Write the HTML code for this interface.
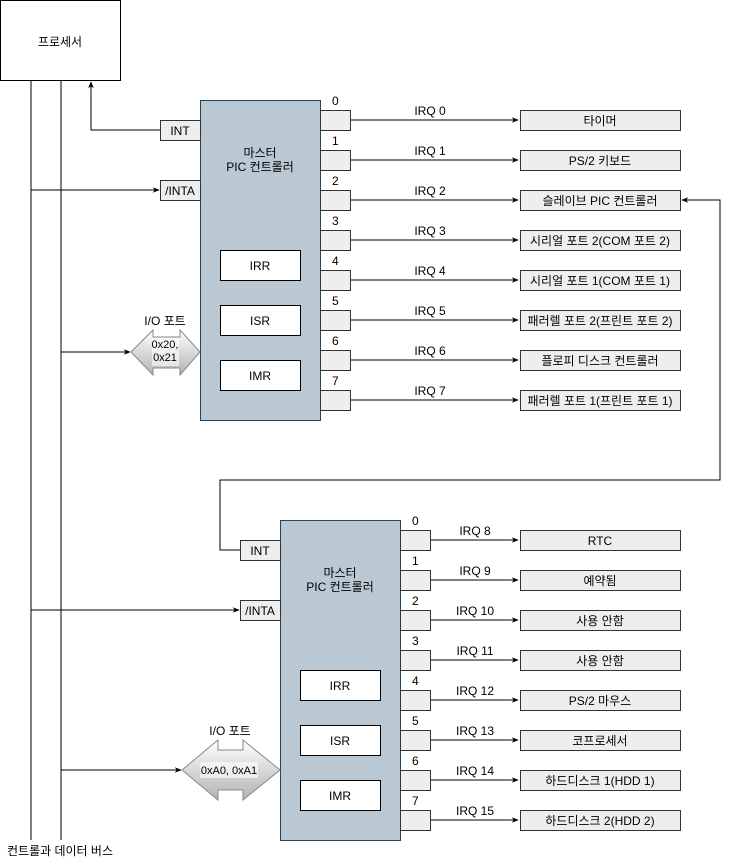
<!DOCTYPE html>
<html><head><meta charset="utf-8"><style>
html,body{margin:0;padding:0;background:#fff}
svg{display:block}
text{font-family:"Liberation Sans","Noto Sans CJK KR",sans-serif;font-size:12px;fill:#000}
</style></head><body>
<svg width="729" height="861" viewBox="0 0 729 861" xmlns="http://www.w3.org/2000/svg">
<defs>
<marker id="a" viewBox="0 0 10 10" refX="9" refY="5" markerWidth="7" markerHeight="7" orient="auto"><path d="M0,1 L10,5 L0,9 L3,5z" fill="#000"/></marker>
<linearGradient id="g" x1="0" y1="0" x2="0" y2="1"><stop offset="0" stop-color="#fff"/><stop offset="1" stop-color="#b3b3b3"/></linearGradient>
</defs>
<g stroke="#000" fill="none" stroke-width="1">
<rect x="0.5" y="0.5" width="120" height="80" fill="#fff"/>
<line x1="31" y1="80" x2="31" y2="840"/>
<line x1="61" y1="80" x2="61" y2="840"/>
<path d="M160,130 H91 V82" marker-end="url(#a)"/>
<path d="M31,190 H159" marker-end="url(#a)"/>
<path d="M61,352 H130" marker-end="url(#a)"/>
<path d="M31,610 H239" marker-end="url(#a)"/>
<path d="M61,770 H181" marker-end="url(#a)"/>
<path d="M240,550 H220 V480 H720 V200 H682" marker-end="url(#a)"/>
</g>
<text x="60" y="46" text-anchor="middle">프로세서</text>
<text x="60" y="855" text-anchor="middle">컨트롤과 데이터 버스</text>

<!-- master -->
<rect x="200.5" y="100.5" width="120" height="320" fill="#bac8d3" stroke="#23445d"/>
<text x="260" y="157" text-anchor="middle">마스터</text>
<text x="260" y="171" text-anchor="middle">PIC 컨트롤러</text>
<rect x="160.5" y="120.5" width="40" height="20" fill="#eee" stroke="#333"/><text x="180" y="135" text-anchor="middle">INT</text>
<rect x="160.5" y="180.5" width="40" height="20" fill="#eee" stroke="#333"/><text x="180" y="195" text-anchor="middle">/INTA</text>
<rect x="220.5" y="250.5" width="80" height="30" fill="#fff" stroke="#000"/><text x="260" y="270" text-anchor="middle">IRR</text>
<rect x="220.5" y="305.5" width="80" height="30" fill="#fff" stroke="#000"/><text x="260" y="325" text-anchor="middle">ISR</text>
<rect x="220.5" y="360.5" width="80" height="30" fill="#fff" stroke="#000"/><text x="260" y="380" text-anchor="middle">IMR</text>
<path d="M131,352 L153,330 V337 H180 V330 L200,352 L180,375 V368 H153 V375Z" fill="url(#g)" stroke="#888"/>
<rect x="152" y="338" width="27" height="28" fill="#fff" opacity="0.6"/>
<text x="165" y="348" text-anchor="middle" style="font-size:11px">0x20,</text>
<text x="165" y="361" text-anchor="middle" style="font-size:11px">0x21</text>
<text x="165" y="325" text-anchor="middle">I/O 포트</text>

<!-- slave -->
<rect x="280.5" y="520.5" width="120" height="320" fill="#bac8d3" stroke="#23445d"/>
<text x="340" y="577" text-anchor="middle">마스터</text>
<text x="340" y="591" text-anchor="middle">PIC 컨트롤러</text>
<rect x="240.5" y="540.5" width="40" height="20" fill="#eee" stroke="#333"/><text x="260" y="555" text-anchor="middle">INT</text>
<rect x="240.5" y="600.5" width="40" height="20" fill="#eee" stroke="#333"/><text x="260" y="615" text-anchor="middle">/INTA</text>
<rect x="300.5" y="670.5" width="80" height="30" fill="#fff" stroke="#000"/><text x="340" y="690" text-anchor="middle">IRR</text>
<rect x="300.5" y="725.5" width="80" height="30" fill="#fff" stroke="#000"/><text x="340" y="745" text-anchor="middle">ISR</text>
<rect x="300.5" y="780.5" width="80" height="30" fill="#fff" stroke="#000"/><text x="340" y="800" text-anchor="middle">IMR</text>
<path d="M182,770 L218,740 V750 H243 V740 L280,770 L243,800 V790 H218 V800Z" fill="url(#g)" stroke="#888"/>
<rect x="200" y="762" width="58" height="16" fill="#fff" opacity="0.6"/>
<text x="229" y="774" text-anchor="middle" style="font-size:11px">0xA0, 0xA1</text>
<text x="230" y="735" text-anchor="middle">I/O 포트</text>

<g id="pins">
<!-- master pins -->
<g stroke="#000" fill="none">
<path d="M350,120 H518" marker-end="url(#a)"/><path d="M350,160 H518" marker-end="url(#a)"/>
<path d="M350,200 H518" marker-end="url(#a)"/><path d="M350,240 H518" marker-end="url(#a)"/>
<path d="M350,280 H518" marker-end="url(#a)"/><path d="M350,320 H518" marker-end="url(#a)"/>
<path d="M350,360 H518" marker-end="url(#a)"/><path d="M350,400 H518" marker-end="url(#a)"/>
<path d="M430,540 H518" marker-end="url(#a)"/><path d="M430,580 H518" marker-end="url(#a)"/>
<path d="M430,620 H518" marker-end="url(#a)"/><path d="M430,660 H518" marker-end="url(#a)"/>
<path d="M430,700 H518" marker-end="url(#a)"/><path d="M430,740 H518" marker-end="url(#a)"/>
<path d="M430,780 H518" marker-end="url(#a)"/><path d="M430,820 H518" marker-end="url(#a)"/>
</g>
<g fill="#eee" stroke="#333">
<rect x="320.5" y="110.5" width="30" height="20"/><rect x="320.5" y="150.5" width="30" height="20"/>
<rect x="320.5" y="190.5" width="30" height="20"/><rect x="320.5" y="230.5" width="30" height="20"/>
<rect x="320.5" y="270.5" width="30" height="20"/><rect x="320.5" y="310.5" width="30" height="20"/>
<rect x="320.5" y="350.5" width="30" height="20"/><rect x="320.5" y="390.5" width="30" height="20"/>
<rect x="400.5" y="530.5" width="30" height="20"/><rect x="400.5" y="570.5" width="30" height="20"/>
<rect x="400.5" y="610.5" width="30" height="20"/><rect x="400.5" y="650.5" width="30" height="20"/>
<rect x="400.5" y="690.5" width="30" height="20"/><rect x="400.5" y="730.5" width="30" height="20"/>
<rect x="400.5" y="770.5" width="30" height="20"/><rect x="400.5" y="810.5" width="30" height="20"/>
<rect x="520.5" y="110.5" width="160" height="20"/><rect x="520.5" y="150.5" width="160" height="20"/>
<rect x="520.5" y="190.5" width="160" height="20"/><rect x="520.5" y="230.5" width="160" height="20"/>
<rect x="520.5" y="270.5" width="160" height="20"/><rect x="520.5" y="310.5" width="160" height="20"/>
<rect x="520.5" y="350.5" width="160" height="20"/><rect x="520.5" y="390.5" width="160" height="20"/>
<rect x="520.5" y="530.5" width="160" height="20"/><rect x="520.5" y="570.5" width="160" height="20"/>
<rect x="520.5" y="610.5" width="160" height="20"/><rect x="520.5" y="650.5" width="160" height="20"/>
<rect x="520.5" y="690.5" width="160" height="20"/><rect x="520.5" y="730.5" width="160" height="20"/>
<rect x="520.5" y="770.5" width="160" height="20"/><rect x="520.5" y="810.5" width="160" height="20"/>
</g>
<g text-anchor="start">
<text x="332" y="105">0</text><text x="332" y="145">1</text><text x="332" y="185">2</text><text x="332" y="225">3</text>
<text x="332" y="265">4</text><text x="332" y="305">5</text><text x="332" y="345">6</text><text x="332" y="385">7</text>
<text x="412" y="525">0</text><text x="412" y="565">1</text><text x="412" y="605">2</text><text x="412" y="645">3</text>
<text x="412" y="685">4</text><text x="412" y="725">5</text><text x="412" y="765">6</text><text x="412" y="805">7</text>
</g>
<g text-anchor="middle">
<text x="430" y="115">IRQ 0</text><text x="430" y="155">IRQ 1</text><text x="430" y="195">IRQ 2</text><text x="430" y="235">IRQ 3</text>
<text x="430" y="275">IRQ 4</text><text x="430" y="315">IRQ 5</text><text x="430" y="355">IRQ 6</text><text x="430" y="395">IRQ 7</text>
<text x="475" y="535">IRQ 8</text><text x="475" y="575">IRQ 9</text><text x="475" y="615">IRQ 10</text><text x="475" y="655">IRQ 11</text>
<text x="475" y="695">IRQ 12</text><text x="475" y="735">IRQ 13</text><text x="475" y="775">IRQ 14</text><text x="475" y="815">IRQ 15</text>
<g style="font-size:11px">
<text x="600" y="125">타이머</text><text x="600" y="165">PS/2 키보드</text><text x="600" y="205">슬레이브 PIC 컨트롤러</text>
<text x="600" y="245">시리얼 포트 2(COM 포트 2)</text><text x="600" y="285">시리얼 포트 1(COM 포트 1)</text>
<text x="600" y="325">패러렐 포트 2(프린트 포트 2)</text><text x="600" y="365">플로피 디스크 컨트롤러</text>
<text x="600" y="405">패러렐 포트 1(프린트 포트 1)</text>
<text x="600" y="545">RTC</text><text x="600" y="585">예약됨</text><text x="600" y="625">사용 안함</text>
<text x="600" y="665">사용 안함</text><text x="600" y="705">PS/2 마우스</text><text x="600" y="745">코프로세서</text>
<text x="600" y="785">하드디스크 1(HDD 1)</text><text x="600" y="825">하드디스크 2(HDD 2)</text>
</g>
</g>
</g>
</svg>
</body></html>
